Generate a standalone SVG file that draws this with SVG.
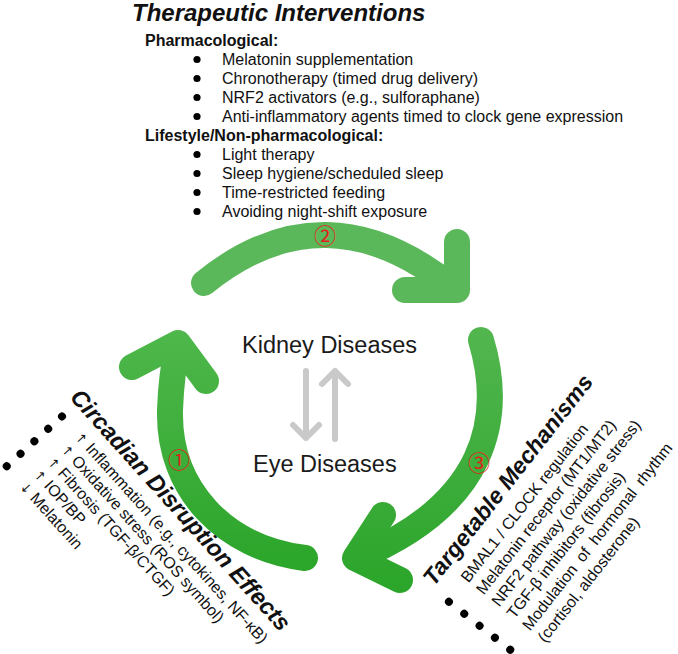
<svg xmlns="http://www.w3.org/2000/svg" width="678" height="654" viewBox="0 0 678 654">
<style>
text{font-family:"Liberation Sans",Arial,sans-serif;fill:#111}
.h1{font-size:24px;font-weight:bold;font-style:italic}
.h2{font-size:23.5px;font-weight:bold;font-style:italic}
.b{font-size:16px;font-weight:bold}
.t{font-size:16px}
.ar{font-family:"DejaVu Sans",sans-serif;font-size:13px;fill:#111}
.c{font-size:23.5px;fill:#1a1a1a}
.num{font-family:"Noto Sans CJK SC","DejaVu Sans",sans-serif;font-size:22px;fill:#e3201b;text-anchor:middle}
.arr{fill:none;stroke-width:26;stroke-linecap:round;stroke-linejoin:round}
.g{fill:none;stroke:#c9c9c9;stroke-width:6;stroke-linecap:round;stroke-linejoin:round}
.dot{fill:#000}
</style>
<defs>
<linearGradient id="gl" gradientUnits="userSpaceOnUse" x1="0" y1="330" x2="0" y2="570">
<stop offset="0" stop-color="#4fb74b"/><stop offset="1" stop-color="#2ba52a"/>
</linearGradient>
<linearGradient id="gr" gradientUnits="userSpaceOnUse" x1="0" y1="330" x2="0" y2="590">
<stop offset="0" stop-color="#52b64f"/><stop offset="1" stop-color="#2ba52a"/>
</linearGradient>
</defs>
<g id="interventions">
<text class="h1" x="132" y="21">Therapeutic Interventions</text>
<text class="b" x="145" y="46">Pharmacological:</text>
<circle class="dot" cx="197" cy="59.5" r="3.6"/><text class="t" x="222" y="65">Melatonin supplementation</text>
<circle class="dot" cx="197" cy="78.5" r="3.6"/><text class="t" x="222" y="84">Chronotherapy (timed drug delivery)</text>
<circle class="dot" cx="197" cy="97.5" r="3.6"/><text class="t" x="222" y="103">NRF2 activators (e.g., sulforaphane)</text>
<circle class="dot" cx="197" cy="116.5" r="3.6"/><text class="t" x="222" y="122">Anti-inflammatory agents timed to clock gene expression</text>
<text class="b" x="145" y="141">Lifestyle/Non-pharmacological:</text>
<circle class="dot" cx="197" cy="154.5" r="3.6"/><text class="t" x="222" y="160">Light therapy</text>
<circle class="dot" cx="197" cy="173.5" r="3.6"/><text class="t" x="222" y="179">Sleep hygiene/scheduled sleep</text>
<circle class="dot" cx="197" cy="192.5" r="3.6"/><text class="t" x="222" y="198">Time-restricted feeding</text>
<circle class="dot" cx="197" cy="211.5" r="3.6"/><text class="t" x="222" y="217">Avoiding night-shift exposure</text>
</g>
<g id="connectors">
<g id="arrow2">
<path class="arr" stroke="#5bb85a" d="M204 283 Q325 185 452 287"/>
<polyline class="arr" stroke="#5bb85a" points="457,242 457,290 405,290"/>
<text class="num" x="325" y="244">②</text>
</g>
<g id="arrow1">
<path class="arr" stroke="url(#gl)" d="M305 558 C225 548 168 490 170 410 C171 380 174 362 178 345"/>
<polyline class="arr" stroke="url(#gl)" points="132,367 178,343 206,381"/>
<text class="num" x="179" y="468">①</text>
</g>
<g id="arrow3">
<path class="arr" stroke="url(#gr)" d="M481 340 C505 420 485 505 357 558"/>
<polyline class="arr" stroke="url(#gr)" points="383,515 355,558 400,580"/>
<text class="num" x="479" y="471">③</text>
</g>
<g id="bidirectional">
<path class="g" d="M306 371 V438 M293 425 L306 438 L319 425"/>
<path class="g" d="M335 439 V371 M322 384 L335 371 L348 384"/>
</g>
</g>
<g id="kidney"><text class="c" x="242" y="353">Kidney Diseases</text></g>
<g id="eye"><text class="c" x="253" y="472">Eye Diseases</text></g>
<g id="circadian" transform="translate(69,398) rotate(48)">
<text class="h2" x="0" y="0">Circadian Disruption Effects</text>
<circle class="dot" cx="9" cy="17.5" r="4"/><text class="t" x="33" y="22.5"><tspan class="ar">↑</tspan> Inflammation (e.g., cytokines, NF-κB)</text>
<circle class="dot" cx="9" cy="36.1" r="4"/><text class="t" x="33" y="41.1"><tspan class="ar">↑</tspan> Oxidative stress (ROS symbol)</text>
<circle class="dot" cx="9" cy="54.7" r="4"/><text class="t" x="33" y="59.7"><tspan class="ar">↑</tspan> Fibrosis (TGF-β/CTGF)</text>
<circle class="dot" cx="9" cy="73.3" r="4"/><text class="t" x="33" y="78.3"><tspan class="ar">↑</tspan> IOP/BP</text>
<circle class="dot" cx="9" cy="91.9" r="4"/><text class="t" x="33" y="96.9"><tspan class="ar">↓</tspan> Melatonin</text>
</g>
<g id="targetable" transform="translate(434,587) rotate(-52)">
<text class="h2" x="0" y="0" style="font-size:23px">Targetable Mechanisms</text>
<circle class="dot" cx="-2.5" cy="20.9" r="4"/><text class="t" x="24" y="25">BMAL1 / CLOCK regulation</text>
<circle class="dot" cx="-2.5" cy="40.35" r="4"/><text class="t" x="24" y="44.5">Melatonin receptor (MT1/MT2)</text>
<circle class="dot" cx="-2.5" cy="59.8" r="4"/><text class="t" x="24" y="64">NRF2 pathway (oxidative stress)</text>
<circle class="dot" cx="-2.5" cy="79.25" r="4"/><text class="t" x="24" y="83.5">TGF-β inhibitors (fibrosis)</text>
<circle class="dot" cx="-2.5" cy="98.7" r="4"/><text class="t" x="24" y="103" word-spacing="4">Modulation of hormonal rhythm</text>
<text class="t" x="24" y="122.5">(cortisol, aldosterone)</text>
</g>
</svg>
